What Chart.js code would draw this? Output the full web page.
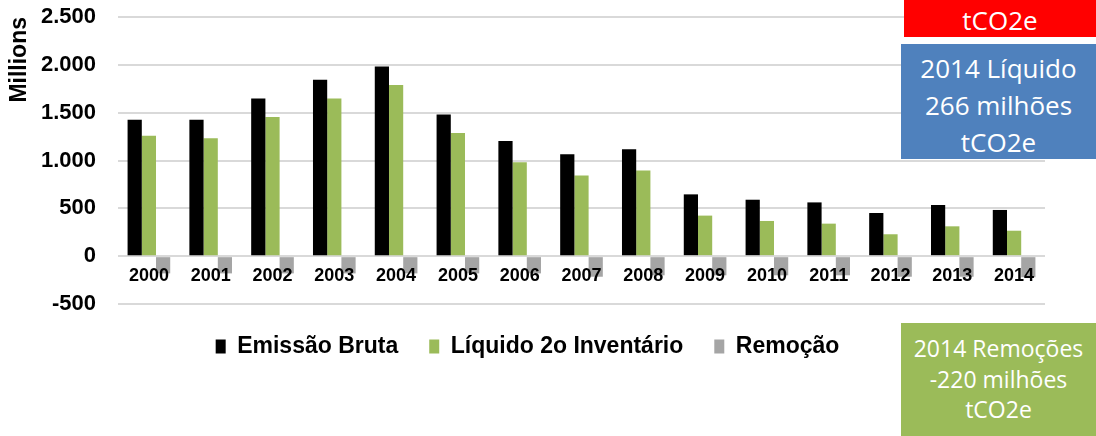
<!DOCTYPE html>
<html>
<head>
<meta charset="utf-8">
<script src="https://cdn.jsdelivr.net/npm/chart.js@4.4.1/dist/chart.umd.min.js"></script>
<style>
  html, body { margin: 0; padding: 0; background: #ffffff; }
  #wrap { position: relative; width: 1096px; height: 436px; overflow: hidden; background: #ffffff; }
  #chart { position: absolute; left: 0; top: 0; }
  .note { position: absolute; color: #ffffff; font-family: "Open Sans", sans-serif; text-align: center; overflow: hidden; box-sizing: border-box; }
  #red { left: 904px; top: 0; width: 192px; height: 37px; background: #ff0000; font-size: 26px; line-height: 36px; }
  #red span { position: absolute; left: 0; right: 0; top: 2px; }
  #blue { left: 901px; top: 44px; width: 195px; height: 115px; background: #4f81bd; font-size: 26px; line-height: 37px; padding-top: 6px; }
  #green { left: 901px; top: 323px; width: 195px; height: 113px; background: #9bbb59; font-size: 23px; line-height: 30.5px; padding-top: 10px; }
</style>
</head>
<body>
<div id="wrap">
  <canvas id="chart" width="1096" height="436"></canvas>
  <div class="note" id="red"><span>tCO2e</span></div>
  <div class="note" id="blue">2014 Líquido<br>266 milhões<br>tCO2e</div>
  <div class="note" id="green">2014 Remoções<br>-220 milhões<br>tCO2e</div>
</div>
<script>
// ---- data ----
const years = ['2000','2001','2002','2003','2004','2005','2006','2007','2008','2009','2010','2011','2012','2013','2014'];
const emissaoBruta = [1427, 1427, 1649, 1844, 1982, 1482, 1204, 1066, 1118, 646, 590, 562, 451, 535, 483];
const liquido2oInventario = [1260, 1232, 1454, 1649, 1788, 1288, 982, 844, 896, 424, 368, 340, 229, 312, 266];
const remocao = [-180, -180, -180, -180, -180, -180, -180, -215, -200, -200, -200, -200, -215, -215, -220];
const seriesNames = ['Emissão Bruta', 'Líquido 2o Inventário', 'Remoção'];
const yTicks = [-500, 0, 500, 1000, 1500, 2000, 2500];
const yAxisTitle = 'Millions';

function fmt(v) {
  const neg = v < 0;
  let s = String(Math.abs(v));
  s = s.replace(/\B(?=(\d{3})+(?!\d))/g, '.');
  return (neg ? '-' : '') + s;
}

const ctx = document.getElementById('chart').getContext('2d');
new Chart(ctx, {
  type: 'bar',
  data: {
    labels: years,
    datasets: [
      { label: seriesNames[0], data: emissaoBruta, backgroundColor: '#000000', borderWidth: 0 },
      { label: seriesNames[1], data: liquido2oInventario, backgroundColor: '#9bbb59', borderWidth: 0 },
      { label: seriesNames[2], data: remocao, backgroundColor: '#a5a5a5', borderWidth: 0 }
    ]
  },
  options: {
    responsive: false,
    animation: false,
    devicePixelRatio: 1,
    layout: { padding: { left: 10, right: 51, top: 17, bottom: 68 } },
    datasets: { bar: { categoryPercentage: 0.69, barPercentage: 1.0 } },
    plugins: {
      legend: {
        position: 'bottom',
        labels: {
          color: '#000000',
          font: { family: '"Liberation Sans", Arial, sans-serif', size: 23, weight: 'bold' },
          boxWidth: 10,
          boxHeight: 14,
          padding: 31
        }
      },
      tooltip: { enabled: false },
      title: { display: false }
    },
    scales: {
      x: {
        type: 'category',
        position: { y: 0 },
        grid: { display: false, drawTicks: false },
        border: { display: false },
        ticks: {
          z: 1,
          color: '#000000',
          font: { family: '"Liberation Sans", Arial, sans-serif', size: 18, weight: 'bold' },
          padding: 9,
          maxRotation: 0,
          autoSkip: false
        }
      },
      y: {
        min: yTicks[0],
        max: yTicks[yTicks.length - 1],
        afterBuildTicks: (scale) => { scale.ticks = yTicks.map(v => ({ value: v })); },
        afterFit: (scale) => { scale.width = 108; },
        grid: { color: '#d9d9d9', lineWidth: 2, drawTicks: true, tickLength: 22, tickColor: 'rgba(0,0,0,0)' },
        border: { display: false },
        ticks: {
          color: '#000000',
          font: { family: '"Liberation Sans", Arial, sans-serif', size: 22, weight: 'bold' },
          padding: 0,
          callback: (v) => fmt(v)
        },
        title: {
          display: true,
          text: yAxisTitle,
          align: 'end',
          color: '#000000',
          font: { family: '"Liberation Sans", Arial, sans-serif', size: 23, weight: 'bold' },
          padding: { top: -4, bottom: 0 }
        }
      }
    }
  }
});
</script>
</body>
</html>
